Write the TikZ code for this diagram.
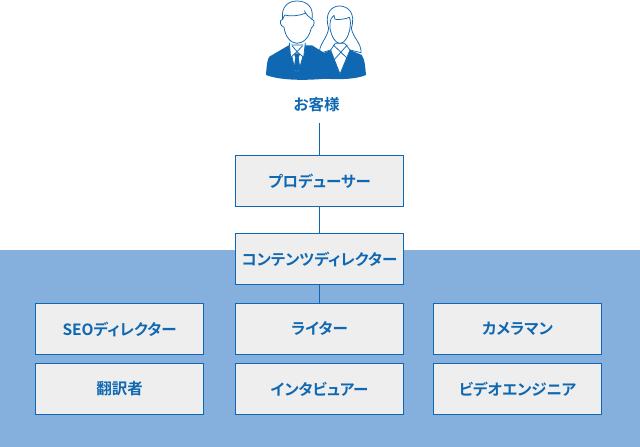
\documentclass[tikz,border=0pt]{standalone}
\usepackage{fontspec}
\newfontfamily\jp[RawFeature=+palt,BoldFont={Noto Sans CJK JP Bold}]{Noto Sans CJK JP}
\definecolor{ink}{HTML}{0F68B1}
\definecolor{band}{HTML}{85B0DE}
\definecolor{boxfill}{HTML}{EEEEEE}
\tikzset{
  orgbox/.style={draw=ink,line width=1pt,fill=boxfill,minimum width=168pt,minimum height=51pt,inner sep=0pt,text=ink,font=\jp\bfseries\fontsize{15.5}{17}\selectfont},
  link/.style={draw=ink,line width=1pt},
  lbl/.style={text=ink,inner sep=0pt,font=\jp\bfseries\fontsize{15.5}{17}\selectfont}
}
\begin{document}
\begin{tikzpicture}[x=1pt,y=-1pt]
\useasboundingbox (0,0) rectangle (640,447);
\fill[band] (0,250) rectangle (640,447);
\node[lbl] (cust) at (316.5,104.5) {お客様};
\coordinate (custb) at (319.5,123);
\node[orgbox] (prod) at (319.5,181) {プロデューサー};
\node[orgbox] (cd) at (319.5,259) {コンテンツディレクター};
\node[orgbox] (seo) at (119.5,329) {SEOディレクター};
\node[orgbox] (wr) at (319.5,329) {ライター};
\node[orgbox] (cam) at (517.5,329) {カメラマン};
\node[orgbox] (tr) at (119.5,389) {翻訳者};
\node[orgbox] (iv) at (319.5,389) {インタビュアー};
\node[orgbox] (ve) at (517.5,389) {ビデオエンジニア};
\draw[link] (custb) -- (prod);
\draw[link] (prod) -- (cd);
\draw[link] (cd) -- (wr);
% people icon
\begin{scope}[shift={(250,0)},x=0.3333pt,y=-0.3333pt,line width=0.75pt]
 % woman: hair
 \draw[ink,fill=white] (209,160) .. controls (205,135) and (232,115) .. (236,85) .. controls (222,40) and (245,18) .. (268,18) .. controls (295,18) and (318,40) .. (304,85) .. controls (310,115) and (335,130) .. (333,158) -- (300,150) -- (242,150) -- cycle;
 % woman: jacket
 \fill[ink] (208,165) -- (242,150) -- (270,222) -- (300,150) -- (335,165) .. controls (345,178) and (346,205) .. (348,225) .. controls (320,238) and (260,240) .. (215,235) -- cycle;
 % woman: neck and shirt
 \draw[ink,fill=white] (242,150) -- (270,222) -- (300,150) -- (284,130) -- (256,130) -- cycle;
 \draw[ink] (250,135) -- (297,180) (292,135) -- (252,180);
 % woman: face
 \draw[ink,fill=white] (240,72) .. controls (241,58) and (245,50) .. (252,46) -- (255,58) .. controls (270,60) and (290,56) .. (298,52) .. controls (302,60) and (302,72) .. (300,85) .. controls (295,112) and (283,130) .. (270,130) .. controls (257,130) and (245,112) .. (240,85) -- cycle;
 % man: jacket
 \fill[ink] (48,225) .. controls (50,195) and (52,178) .. (58,170) -- (116,136) -- (186,136) -- (225,160) -- (240,235) .. controls (190,240) and (100,245) .. (48,225) -- cycle;
 % man: shirt
 \draw[ink,fill=white] (118,135) -- (136,215) -- (146,215) -- (168,135) -- cycle;
 % man: head
 \draw[ink,fill=white] (102,82) .. controls (90,78) and (86,60) .. (98,58) .. controls (92,20) and (115,3) .. (141,3) .. controls (172,3) and (192,22) .. (186,58) .. controls (196,58) and (194,78) .. (184,84) .. controls (178,112) and (160,130) .. (141,130) .. controls (122,130) and (106,110) .. (102,82) -- cycle;
 \draw[ink] (98,58) -- (104,45) .. controls (120,50) and (145,48) .. (166,40) -- (165,36) -- (172,46) -- (186,58);
 % man: collar and tie
 \fill[ink] (131,160) -- (151,160) -- (146,173) -- (151,205) -- (141,217) -- (131,205) -- (136,173) -- cycle;
 \draw[ink,fill=white] (118,128) -- (122,172) -- (141,155) -- (126,137) (166,128) -- (161,172) -- (141,155) -- (158,137);
\end{scope}
\end{tikzpicture}
\end{document}
